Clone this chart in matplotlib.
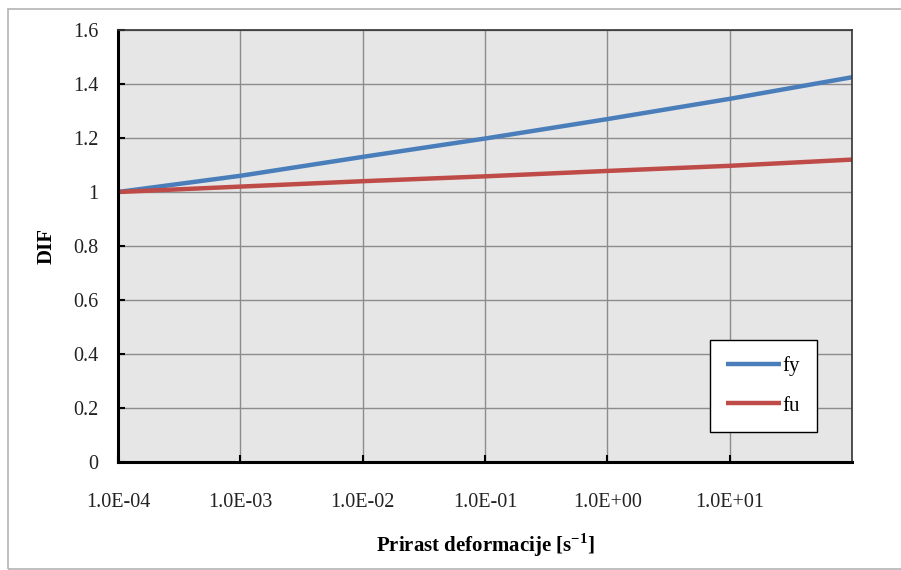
import matplotlib
matplotlib.use('Agg')
import matplotlib.pyplot as plt
from matplotlib.patches import Rectangle
import numpy as np

# strain rate [1/s] and dynamic increase factors
rate = [1e-4, 1e-3, 1e-2, 1e-1, 1e0, 1e1, 1e2]
fy = [1.0, 1.06, 1.13, 1.198, 1.27, 1.345, 1.425]
fu = [1.0, 1.02, 1.04, 1.058, 1.078, 1.097, 1.12]
xticks = [1e-4, 1e-3, 1e-2, 1e-1, 1e0, 1e1]
xlabels = ['1.0E-04', '1.0E-03', '1.0E-02', '1.0E-01', '1.0E+00', '1.0E+01']
yticks = [0, 0.2, 0.4, 0.6, 0.8, 1.0, 1.2, 1.4, 1.6]
ylabels = ['0', '0.2', '0.4', '0.6', '0.8', '1', '1.2', '1.4', '1.6']

plt.rcParams['font.family'] = ['Liberation Serif', 'DejaVu Serif']

fig = plt.figure(figsize=(9.01, 5.70), dpi=100)
fig.patches.append(Rectangle((8/901, 1/570), 1.0, 560/570, transform=fig.transFigure,
                             fill=False, edgecolor='#b4b4b4', linewidth=1.2))
ax = fig.add_axes([118/901, 1 - 462/570, (852-118)/901, (462-30)/570])
ax.set_facecolor('#e6e6e6')

ax.plot(rate, fy, color='#4a7ebb', lw=3.2, label='fy', solid_capstyle='butt')
ax.plot(rate, fu, color='#be4b48', lw=3.2, label='fu', solid_capstyle='butt')

ax.set_xscale('log')
ax.set_xlim(1e-4, 1e2)
ax.set_ylim(0, 1.6)
ax.set_xticks(xticks)
ax.set_xticklabels(xlabels)
ax.minorticks_off()
ax.set_yticks(yticks)
ax.set_yticklabels(ylabels)
ax.grid(True, color='#8c8c8c', lw=1)
ax.set_axisbelow(True)
ax.tick_params(axis='both', direction='in', length=5, width=1.5, colors='black',
               labelsize=14.5, labelcolor='#222222')
ax.tick_params(axis='x', pad=22)
ax.tick_params(axis='y', pad=14)
for s in ['left', 'bottom']:
    ax.spines[s].set_linewidth(2.2)
    ax.spines[s].set_color('black')
for s in ['top', 'right']:
    ax.spines[s].set_linewidth(1.2)
    ax.spines[s].set_color('#333333')

ax.set_ylabel('DIF', fontsize=15, fontweight='bold', labelpad=12)
ax.set_xlabel('Prirast deformacije [s$^{\\mathregular{-1}}$]', fontsize=15, fontweight='bold', labelpad=14)

leg = ax.legend(loc='lower right', bbox_to_anchor=(0.952, 0.069), fontsize=15, frameon=True,
                fancybox=False, edgecolor='black', handlelength=2.6, handletextpad=0.1,
                labelspacing=0.95, borderpad=0.8, borderaxespad=0)
leg.get_frame().set_linewidth(1)
leg.get_frame().set_facecolor('white')
leg.get_frame().set_alpha(1)

plt.savefig('out.png', dpi=100)
